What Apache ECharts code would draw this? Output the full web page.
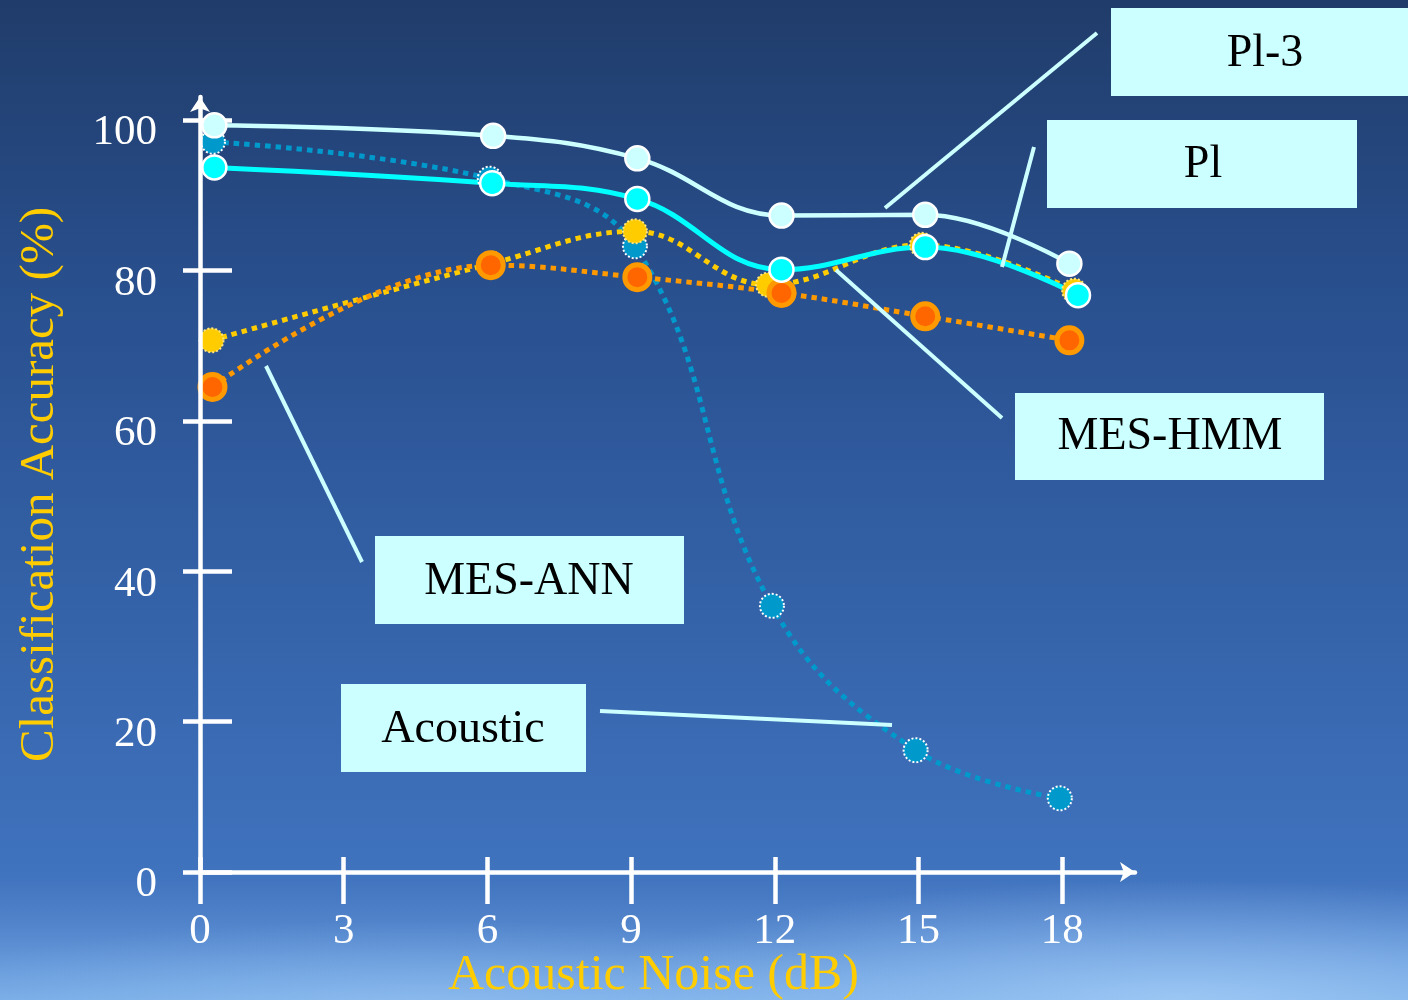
<!DOCTYPE html>
<html>
<head>
<meta charset="utf-8">
<script src="https://cdn.jsdelivr.net/npm/echarts@6/dist/echarts.min.js"></script>
<style>
  html, body { margin: 0; padding: 0; background: #213d6c; }
  #chart { width: 1408px; height: 1000px; }
</style>
</head>
<body>
<div id="chart"></div>
<script>
// Axis ticks
const xTicks = [0, 3, 6, 9, 12, 15, 18];
const yTicks = [0, 20, 40, 60, 80, 100];

// Classification accuracy (%) against acoustic noise level (dB)
const acousticX = [0.27, 6.05, 9.08, 11.94, 14.94, 17.95];
const acousticY = [97.1, 92.2, 83.2, 35.4, 16.2, 9.8];

const mesHmmX = [0.24, 6.09, 9.08, 11.86, 15.07, 18.25];
const mesHmmY = [70.7, 80.9, 85.2, 78.1, 83.4, 77.3];

const mesAnnX = [0.26, 6.07, 9.13, 12.14, 15.14, 18.15];
const mesAnnY = [64.5, 80.7, 79.1, 77.0, 73.9, 70.7];

const pl3X = [0.30, 6.12, 9.13, 12.14, 15.14, 18.15];
const pl3Y = [99.3, 97.9, 94.9, 87.3, 87.4, 80.9];

const plX = [0.30, 6.10, 9.13, 12.14, 15.14, 18.33];
const plY = [93.7, 91.6, 89.5, 80.1, 83.1, 76.7];

const zip = (xs, ys) => xs.map((x, i) => [x, ys[i]]);

const SERIF = '"Liberation Serif", "DejaVu Serif", serif';
const X_MIN = 0, X_MAX = 19.52;
const Y_MIN = 0, Y_MAX = 103.06;

// Callout boxes and their leader lines
function callout(text, x, y, w, h, tx, ty) {
  return [
    { type: 'rect', shape: { x: x, y: y, width: w, height: h }, style: { fill: '#ccffff' }, z: 10 },
    { type: 'text', x: tx, y: ty, z: 11,
      style: { text: text, fill: '#000', font: '46px ' + SERIF,
               align: 'center', verticalAlign: 'middle',
               textAlign: 'center', textVerticalAlign: 'middle' } }
  ];
}
function leader(x1, y1, x2, y2) {
  return { type: 'line', shape: { x1: x1, y1: y1, x2: x2, y2: y2 }, z: 9,
           style: { stroke: '#ccffff', lineWidth: 4 } };
}
// A soft, horizontally stretched patch of haze
function haze(x, y, r, stretch, alpha) {
  return {
    type: 'circle', x: x, y: y, scaleX: stretch, scaleY: 1, z: -10, silent: true,
    shape: { cx: 0, cy: 0, r: r },
    style: { fill: { type: 'radial', x: 0.5, y: 0.5, r: 0.5, colorStops: [
      { offset: 0, color: 'rgba(170,210,250,' + alpha + ')' },
      { offset: 0.5, color: 'rgba(160,202,248,' + (alpha * 0.55) + ')' },
      { offset: 1, color: 'rgba(150,195,245,0)' } ] } }
  };
}

const graphics = [
  // pale cloud band along the bottom edge, brighter towards the right
  { type: 'rect', shape: { x: 0, y: 880, width: 1408, height: 120 }, z: -11, silent: true,
    style: { fill: { type: 'linear', x: 0, y: 0, x2: 0, y2: 1, colorStops: [
      { offset: 0, color: 'rgba(140,190,240,0)' },
      { offset: 0.5, color: 'rgba(140,190,240,0.2)' },
      { offset: 1, color: 'rgba(150,200,245,0.5)' } ] } } },
  haze(1180, 1000, 120, 5, 0.7),
  haze(420, 1010, 90, 6, 0.4),
  leader(1097, 33, 885, 208),
  leader(1034, 147, 1002, 267),
  leader(836, 270, 1002, 418),
  leader(266, 366, 362, 562),
  leader(600, 711, 892, 725),
  ...callout('Pl-3', 1111, 8, 310, 88, 1265, 54),
  ...callout('Pl', 1047, 120, 310, 88, 1203, 165),
  ...callout('MES-HMM', 1015, 393, 309, 87, 1170, 437),
  ...callout('MES-ANN', 375, 536, 309, 88, 529, 582),
  ...callout('Acoustic', 341, 684, 245, 88, 463, 730)
];

function lineSeries(name, xs, ys, opt) {
  return Object.assign({
    name: name,
    type: 'line',
    data: zip(xs, ys),
    smooth: 0.4,
    symbol: 'circle',
    showAllSymbol: true,
    xAxisIndex: 0,
    yAxisIndex: 0,
    z: 3
  }, opt);
}

const DOT = [5.5, 5];

const option = {
  animation: false,
  backgroundColor: {
    type: 'linear', x: 0, y: 0, x2: 0, y2: 1,
    colorStops: [
      { offset: 0.00, color: '#203c6a' },
      { offset: 0.30, color: '#29508f' },
      { offset: 0.60, color: '#3462a8' },
      { offset: 0.86, color: '#3f72bd' },
      { offset: 0.92, color: '#4779c4' },
      { offset: 1.00, color: '#5a90d6' }
    ]
  },
  grid: { left: 200, top: 97, right: 1408 - 1135, bottom: 128,
          containLabel: false, outerBoundsMode: 'none' },
  xAxis: [
    {
      type: 'value', min: X_MIN, max: X_MAX, z: 5,
      name: 'Acoustic Noise (dB)', nameLocation: 'middle', nameGap: 79, nameMoveOverlap: false,
      nameTextStyle: { color: '#ffcc00', fontFamily: SERIF, fontSize: 50, padding: [0, 28, 0, 0] },
      axisLine: { show: true, onZero: false, symbol: ['none', 'arrow'], symbolSize: [15, 15],
                  lineStyle: { color: '#fff', width: 4.5 } },
      axisTick: { show: true, inside: false, length: 32, customValues: xTicks,
                  lineStyle: { color: '#fff', width: 4.5 } },
      axisLabel: { show: true, customValues: xTicks, color: '#fff', fontFamily: SERIF,
                   fontSize: 43, margin: 38 },
      splitLine: { show: false }
    },
    {
      type: 'value', min: X_MIN, max: X_MAX, position: 'bottom',
      axisLine: { show: false },
      axisTick: { show: true, inside: true, length: 15, customValues: xTicks,
                  lineStyle: { color: '#fff', width: 4.5 } },
      axisLabel: { show: false, customValues: xTicks },
      splitLine: { show: false }
    }
  ],
  yAxis: [
    {
      type: 'value', min: Y_MIN, max: Y_MAX, z: 5,
      name: 'Classification Accuracy (%)', nameLocation: 'middle', nameGap: 135, nameRotate: 90,
      nameMoveOverlap: false,
      nameTextStyle: { color: '#ffcc00', fontFamily: SERIF, fontSize: 49 },
      axisLine: { show: true, onZero: false, symbol: ['none', 'arrow'], symbolSize: [15, 15],
                  lineStyle: { color: '#fff', width: 4.5 } },
      axisTick: { show: true, inside: false, length: 17, customValues: yTicks,
                  lineStyle: { color: '#fff', width: 4.5 } },
      axisLabel: { show: true, customValues: yTicks, color: '#fff', fontFamily: SERIF,
                   fontSize: 43, margin: 43, verticalAlign: 'top', lineHeight: 26 },
      splitLine: { show: false }
    },
    {
      type: 'value', min: Y_MIN, max: Y_MAX, position: 'left',
      axisLine: { show: false },
      axisTick: { show: true, inside: true, length: 32, customValues: yTicks,
                  lineStyle: { color: '#fff', width: 4.5 } },
      axisLabel: { show: false, customValues: yTicks },
      splitLine: { show: false }
    }
  ],
  series: [
    lineSeries('Acoustic', acousticX, acousticY, {
      symbolSize: 24,
      lineStyle: { color: '#0099cc', width: 5, type: DOT, cap: 'butt' },
      itemStyle: { color: '#0099cc', borderColor: '#ffffff', borderWidth: 2, borderType: [2, 2] }
    }),
    lineSeries('MES-HMM', mesHmmX, mesHmmY, {
      symbolSize: 24,
      lineStyle: { color: '#ffcc00', width: 5, type: DOT, cap: 'butt' },
      itemStyle: { color: '#ffcc00', borderColor: '#ffe680', borderWidth: 2, borderType: [2, 2] }
    }),
    lineSeries('MES-ANN', mesAnnX, mesAnnY, {
      symbolSize: 25,
      lineStyle: { color: '#ff9900', width: 5, type: DOT, cap: 'butt' },
      itemStyle: { color: '#ff6600', borderColor: '#ff9900', borderWidth: 5 }
    }),
    lineSeries('Pl-3', pl3X, pl3Y, {
      symbolSize: 24,
      lineStyle: { color: '#ccffff', width: 4.5 },
      itemStyle: { color: '#ccffff', borderColor: '#ffffff', borderWidth: 2.5 }
    }),
    lineSeries('Pl', plX, plY, {
      symbolSize: 24,
      lineStyle: { color: '#00ffff', width: 5 },
      itemStyle: { color: '#00ffff', borderColor: '#ffffff', borderWidth: 2.5 }
    })
  ],
  graphic: graphics
};

const chart = echarts.init(document.getElementById('chart'), null, { renderer: 'canvas' });
chart.setOption(option);
</script>
</body>
</html>
